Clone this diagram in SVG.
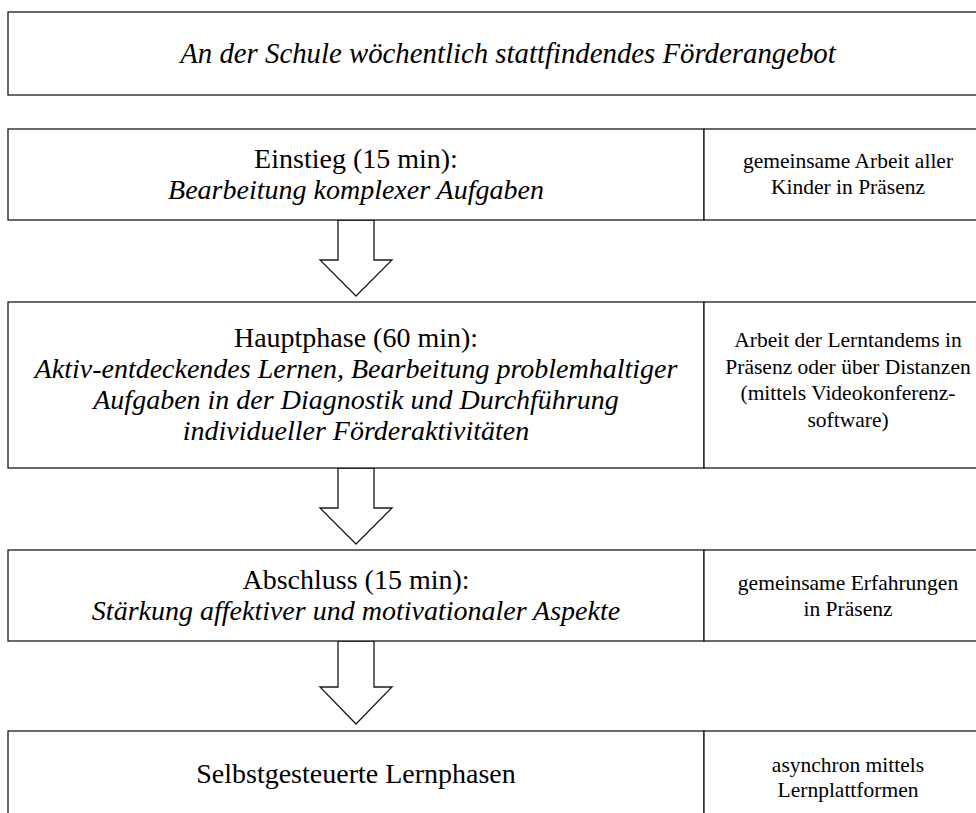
<svg xmlns="http://www.w3.org/2000/svg" width="976" height="813" viewBox="0 0 976 813">
<style>
  .box { fill: #ffffff; stroke: #1a1a1a; stroke-width: 1.3; }
  .arrow { fill: #ffffff; stroke: #1a1a1a; stroke-width: 1.3; stroke-linejoin: miter; }
  text { font-family: "Liberation Serif", "Times New Roman", serif; fill: #000000; text-anchor: middle; }
  .main { font-size: 28px; }
  .title { font-size: 28.8px; }
  .side { font-size: 21.5px; }
  .it { font-style: italic; }
</style>
<rect width="976" height="813" fill="#ffffff"/>

<g id="connectors">
  <polygon class="arrow" points="338,220 338,260 320,260 356,296 392,260 374,260 374,220"/>
  <polygon class="arrow" points="338,468 338,508 320,508 356,544 392,508 374,508 374,468"/>
  <polygon class="arrow" points="338,641 338,687 320,687 356,724 392,687 374,687 374,641"/>
</g>

<g id="header">
  <rect class="box" x="8" y="12" width="1000" height="83"/>
  <text class="title it" x="508" y="63">An der Schule wöchentlich stattfindendes Förderangebot</text>
</g>

<g id="einstieg">
  <rect class="box" x="8" y="129" width="696" height="91"/>
  <text class="main" x="356" y="168">Einstieg (15 min):</text>
  <text class="main it" x="356" y="199">Bearbeitung komplexer Aufgaben</text>
</g>
<g id="einstieg-note">
  <rect class="box" x="704" y="129" width="300" height="91"/>
  <text class="side" x="848" y="168">gemeinsame Arbeit aller</text>
  <text class="side" x="848" y="194">Kinder in Präsenz</text>
</g>

<g id="hauptphase">
  <rect class="box" x="8" y="302" width="696" height="166"/>
  <text class="main" x="356" y="347">Hauptphase (60 min):</text>
  <text class="main it" x="356" y="378">Aktiv-entdeckendes Lernen, Bearbeitung problemhaltiger</text>
  <text class="main it" x="356" y="409">Aufgaben in der Diagnostik und Durchführung</text>
  <text class="main it" x="356" y="440">individueller Förderaktivitäten</text>
</g>
<g id="hauptphase-note">
  <rect class="box" x="704" y="302" width="300" height="166"/>
  <text class="side" x="848" y="347">Arbeit der Lerntandems in</text>
  <text class="side" x="848" y="373.5">Präsenz oder über Distanzen</text>
  <text class="side" x="848" y="400">(mittels Videokonferenz-</text>
  <text class="side" x="848" y="426.5">software)</text>
</g>

<g id="abschluss">
  <rect class="box" x="8" y="550" width="696" height="91"/>
  <text class="main" x="356" y="589">Abschluss (15 min):</text>
  <text class="main it" x="356" y="620">Stärkung affektiver und motivationaler Aspekte</text>
</g>
<g id="abschluss-note">
  <rect class="box" x="704" y="550" width="300" height="91"/>
  <text class="side" x="848" y="590">gemeinsame Erfahrungen</text>
  <text class="side" x="848" y="616">in Präsenz</text>
</g>

<g id="selbst">
  <rect class="box" x="8" y="731" width="696" height="110"/>
  <text class="main" x="356" y="783">Selbstgesteuerte Lernphasen</text>
</g>
<g id="selbst-note">
  <rect class="box" x="704" y="731" width="300" height="110"/>
  <text class="side" x="848" y="772">asynchron mittels</text>
  <text class="side" x="848" y="797">Lernplattformen</text>
</g>
</svg>
